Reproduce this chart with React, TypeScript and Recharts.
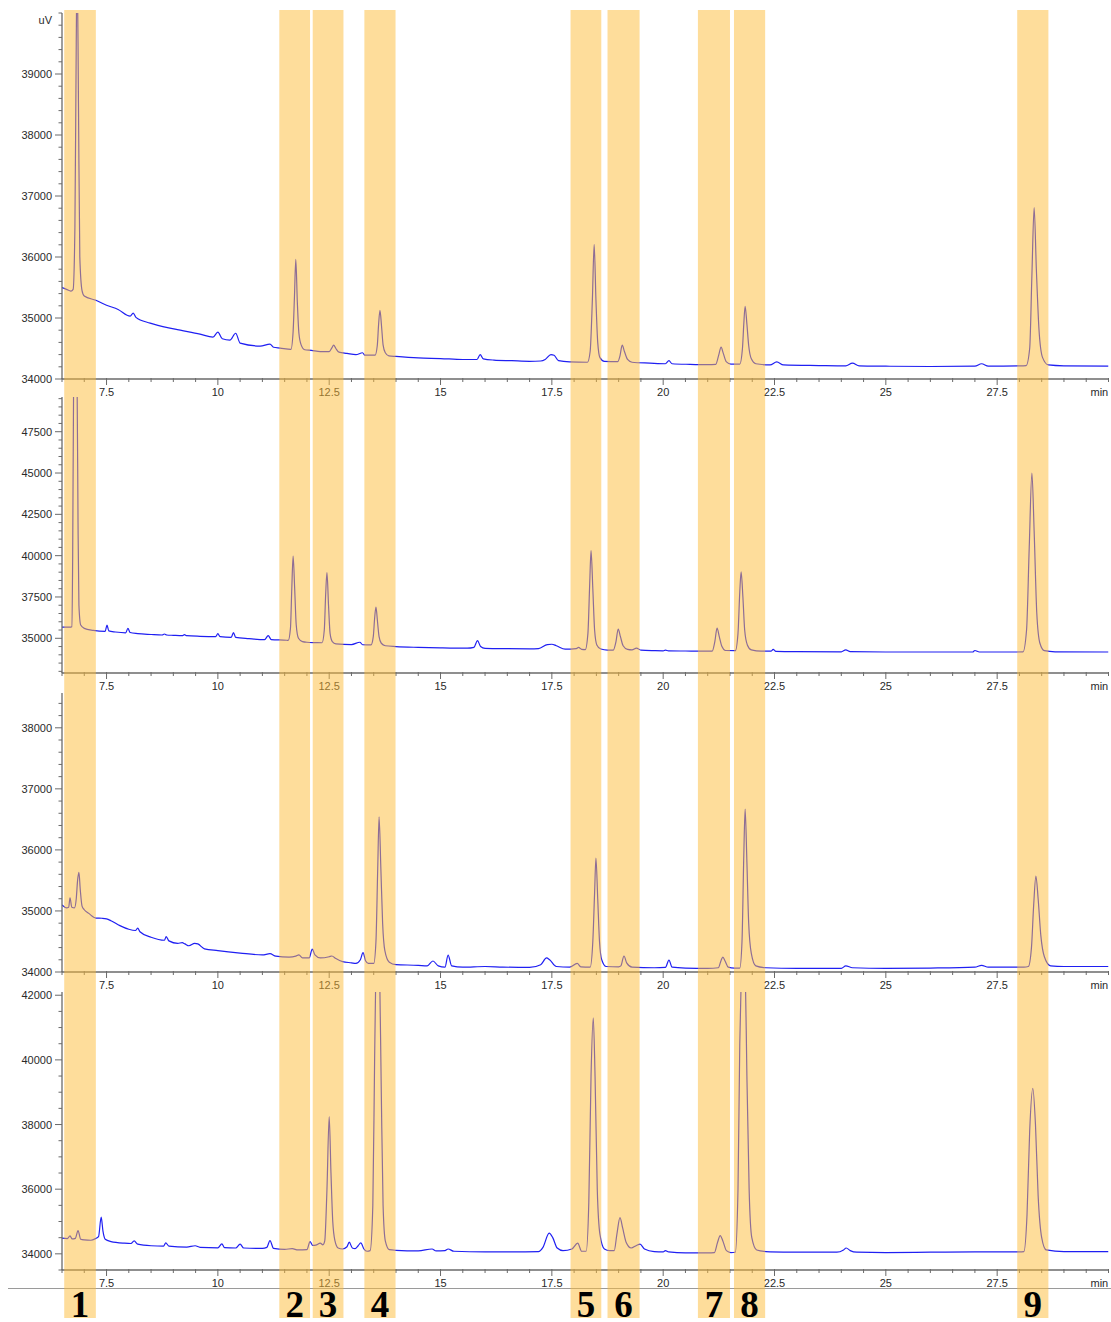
import React from 'react';
import { LineChart, Line, XAxis, YAxis, ReferenceArea } from 'recharts';

// ---------- data (minutes, uV) ----------
const trace1: [number, number][] = [
  [6.5, 35500], [6.6, 35470], [6.7, 35440], [6.75, 35470], [6.79, 36500], [6.82, 39500], [6.84, 41000],
  [6.87, 38500], [6.9, 36000], [6.95, 35450], [7.0, 35360], [7.26, 35290], [7.5, 35210], [7.76, 35140],
  [8.03, 35030], [8.1, 35080], [8.16, 35010], [8.48, 34915], [9.04, 34817], [9.6, 34735], [9.89, 34686],
  [10.0, 34770], [10.1, 34660], [10.27, 34637], [10.4, 34750], [10.5, 34588], [10.95, 34540], [11.17, 34572],
  [11.25, 34520], [11.4, 34507], [11.64, 34485], [11.69, 34780], [11.72, 35350], [11.75, 35960], [11.785, 35250],
  [11.82, 34750], [11.87, 34560], [11.95, 34480], [12.1, 34470], [12.3, 34450], [12.5, 34450], [12.56, 34510],
  [12.6, 34555], [12.65, 34500], [12.72, 34440], [12.9, 34420], [13.1, 34400], [13.25, 34430], [13.3, 34390],
  [13.53, 34390], [13.58, 34550], [13.61, 34900], [13.64, 35127], [13.675, 34870], [13.71, 34560], [13.76, 34430],
  [13.84, 34380], [14.0, 34370], [14.5, 34345], [15.0, 34335], [15.5, 34320], [15.82, 34320], [15.89, 34400],
  [15.96, 34330], [16.2, 34310], [16.6, 34300], [17.0, 34290], [17.25, 34295], [17.35, 34320], [17.48, 34400],
  [17.55, 34390], [17.65, 34300], [17.9, 34280], [18.3, 34275], [18.36, 34450], [18.41, 35300], [18.45, 36206],
  [18.49, 35300], [18.53, 34600], [18.58, 34350], [18.68, 34290], [18.98, 34285], [19.03, 34380], [19.08, 34555],
  [19.13, 34450], [19.2, 34320], [19.3, 34275], [19.7, 34260], [20.05, 34250], [20.13, 34300], [20.2, 34250],
  [20.6, 34240], [21.0, 34235], [21.18, 34240], [21.25, 34400], [21.3, 34523], [21.35, 34420], [21.42, 34280],
  [21.52, 34245], [21.72, 34245], [21.78, 34500], [21.81, 34900], [21.84, 35193], [21.88, 34900], [21.92, 34550],
  [21.98, 34330], [22.08, 34250], [22.4, 34230], [22.55, 34280], [22.7, 34230], [23.5, 34220], [24.1, 34215],
  [24.25, 34260], [24.4, 34215], [25.0, 34210], [26.0, 34205], [27.0, 34210], [27.15, 34250], [27.3, 34210],
  [28.0, 34215], [28.15, 34220], [28.23, 34500], [28.28, 35700], [28.33, 36810], [28.38, 35800], [28.44, 34800],
  [28.52, 34350], [28.65, 34230], [29.0, 34215], [30.0, 34210],
];

const trace2: [number, number][] = [
  [6.5, 35680], [6.7, 35680], [6.72, 35700], [6.74, 40000], [6.76, 50000], [6.8, 53000], [6.84, 50000],
  [6.86, 42000], [6.88, 37000], [6.92, 35800], [7.0, 35600], [7.2, 35480], [7.47, 35420], [7.51, 35800],
  [7.55, 35450], [7.7, 35380], [7.93, 35330], [7.98, 35600], [8.03, 35350], [8.2, 35280], [8.5, 35230],
  [8.75, 35200], [8.8, 35260], [8.85, 35200], [9.0, 35180], [9.2, 35160], [9.25, 35220], [9.3, 35160],
  [9.6, 35120], [9.95, 35100], [10.0, 35280], [10.05, 35100], [10.3, 35060], [10.35, 35340], [10.4, 35060],
  [10.7, 34980], [11.05, 34920], [11.13, 35160], [11.2, 34920], [11.55, 34880], [11.58, 34870], [11.63, 35600],
  [11.66, 38000], [11.69, 39980], [11.725, 38000], [11.76, 35800], [11.81, 35000], [11.9, 34800], [12.0, 34760],
  [12.2, 34740], [12.34, 34730], [12.39, 35500], [12.42, 37600], [12.45, 38970], [12.485, 37000], [12.52, 35300],
  [12.57, 34800], [12.65, 34660], [13.0, 34620], [13.19, 34760], [13.25, 34610], [13.44, 34600], [13.49, 35100],
  [13.52, 36200], [13.55, 36890], [13.585, 36000], [13.62, 35100], [13.67, 34700], [13.76, 34550], [14.0, 34500],
  [14.5, 34450], [15.0, 34420], [15.6, 34400], [15.75, 34450], [15.83, 34860], [15.9, 34500], [16.0, 34390],
  [16.5, 34370], [17.0, 34360], [17.2, 34380], [17.4, 34620], [17.5, 34640], [17.6, 34550], [17.8, 34340],
  [18.05, 34380], [18.1, 34450], [18.17, 34330], [18.25, 34320], [18.31, 35300], [18.35, 38300], [18.38, 40300],
  [18.42, 38000], [18.46, 35500], [18.51, 34600], [18.6, 34350], [18.75, 34290], [18.88, 34290], [18.94, 34800],
  [18.99, 35560], [19.04, 35100], [19.1, 34550], [19.2, 34330], [19.3, 34300], [19.4, 34410], [19.5, 34280],
  [19.8, 34250], [20.0, 34240], [20.05, 34290], [20.12, 34240], [20.5, 34230], [21.0, 34220], [21.1, 34220],
  [21.16, 34800], [21.21, 35620], [21.26, 35100], [21.32, 34500], [21.4, 34260], [21.62, 34250], [21.68, 35300],
  [21.72, 37800], [21.75, 39020], [21.79, 37500], [21.83, 35500], [21.89, 34600], [21.98, 34300], [22.2, 34220],
  [22.42, 34220], [22.47, 34330], [22.53, 34210], [23.0, 34190], [24.0, 34180], [24.1, 34300], [24.2, 34190],
  [25.0, 34170], [26.0, 34170], [26.95, 34170], [27.0, 34260], [27.1, 34170], [27.9, 34170], [28.08, 34180],
  [28.16, 35500], [28.22, 40500], [28.28, 45000], [28.33, 41500], [28.39, 36500], [28.46, 34700], [28.56, 34250],
  [28.8, 34180], [30.0, 34170],
];

const trace3: [number, number][] = [
  [6.5, 35097], [6.6, 35050], [6.65, 35060], [6.68, 35216], [6.72, 35060], [6.78, 35050], [6.82, 35200],
  [6.85, 35500], [6.88, 35632], [6.91, 35350], [6.95, 35080], [7.0, 35020], [7.1, 34960], [7.26, 34884],
  [7.4, 34880], [7.5, 34870], [7.6, 34840], [7.8, 34760], [8.0, 34700], [8.15, 34680], [8.2, 34720],
  [8.25, 34660], [8.5, 34570], [8.8, 34520], [8.84, 34580], [8.9, 34510], [9.1, 34470], [9.2, 34480],
  [9.26, 34460], [9.35, 34430], [9.48, 34470], [9.55, 34460], [9.7, 34380], [10.0, 34350], [10.5, 34310],
  [11.0, 34280], [11.17, 34300], [11.3, 34260], [11.6, 34245], [11.75, 34260], [11.82, 34280], [11.9, 34230],
  [12.05, 34230], [12.12, 34376], [12.18, 34280], [12.3, 34230], [12.5, 34250], [12.56, 34262], [12.65, 34220],
  [12.8, 34170], [13.0, 34150], [13.1, 34140], [13.2, 34200], [13.26, 34316], [13.32, 34180], [13.38, 34140],
  [13.5, 34140], [13.55, 34500], [13.59, 35700], [13.62, 36542], [13.66, 35700], [13.7, 34800], [13.75, 34350],
  [13.85, 34160], [14.0, 34120], [14.5, 34110], [14.7, 34100], [14.83, 34180], [14.95, 34100], [15.1, 34080],
  [15.17, 34278], [15.25, 34100], [15.5, 34080], [16.0, 34090], [16.4, 34080], [17.0, 34075], [17.25, 34120],
  [17.38, 34230], [17.45, 34200], [17.6, 34090], [17.9, 34080], [18.07, 34140], [18.15, 34085], [18.36, 34080],
  [18.42, 34500], [18.46, 35300], [18.49, 35866], [18.53, 35200], [18.57, 34500], [18.62, 34200], [18.72, 34090],
  [19.0, 34085], [19.05, 34100], [19.12, 34262], [19.18, 34150], [19.3, 34080], [19.8, 34070], [20.05, 34075],
  [20.13, 34196], [20.2, 34080], [20.5, 34065], [21.0, 34060], [21.24, 34070], [21.3, 34190], [21.34, 34245],
  [21.39, 34180], [21.46, 34080], [21.6, 34065], [21.72, 34065], [21.77, 34500], [21.81, 35900], [21.84, 36668],
  [21.88, 35800], [21.92, 34800], [21.98, 34300], [22.08, 34100], [22.3, 34070], [23.0, 34060], [24.0, 34060],
  [24.1, 34100], [24.25, 34070], [25.0, 34060], [26.0, 34065], [27.0, 34080], [27.15, 34110], [27.3, 34080],
  [28.1, 34080], [28.2, 34090], [28.27, 34400], [28.32, 35100], [28.37, 35571], [28.42, 35200], [28.48, 34600],
  [28.56, 34250], [28.7, 34100], [29.0, 34090], [30.0, 34090],
];

const trace4: [number, number][] = [
  [6.5, 34485], [6.62, 34470], [6.68, 34556], [6.73, 34460], [6.8, 34480], [6.86, 34720], [6.92, 34450],
  [7.0, 34430], [7.15, 34420], [7.25, 34470], [7.32, 34530], [7.38, 35134], [7.42, 34700], [7.47, 34450],
  [7.6, 34380], [7.9, 34330], [8.05, 34320], [8.12, 34400], [8.2, 34300], [8.5, 34250], [8.78, 34240],
  [8.83, 34340], [8.9, 34240], [9.3, 34210], [9.49, 34250], [9.6, 34200], [10.0, 34185], [10.09, 34310],
  [10.15, 34190], [10.4, 34180], [10.5, 34300], [10.58, 34180], [11.0, 34170], [11.1, 34200], [11.17, 34411],
  [11.25, 34170], [11.5, 34140], [11.67, 34160], [11.8, 34120], [12.0, 34130], [12.07, 34380], [12.13, 34260],
  [12.2, 34270], [12.3, 34330], [12.36, 34280], [12.4, 34400], [12.45, 36000], [12.5, 38243], [12.54, 36500],
  [12.58, 35000], [12.63, 34400], [12.7, 34180], [12.8, 34150], [12.9, 34220], [12.95, 34360], [13.02, 34180],
  [13.08, 34160], [13.15, 34250], [13.21, 34340], [13.28, 34150], [13.35, 34080], [13.42, 34100], [13.48, 35500],
  [13.52, 40000], [13.55, 43000], [13.59, 44500], [13.63, 43000], [13.67, 39000], [13.71, 35500], [13.76, 34400],
  [13.85, 34130], [14.0, 34110], [14.5, 34090], [14.81, 34150], [14.9, 34090], [15.1, 34100], [15.17, 34150],
  [15.3, 34080], [16.0, 34060], [16.6, 34060], [17.2, 34070], [17.3, 34200], [17.44, 34640], [17.52, 34500],
  [17.62, 34180], [17.75, 34100], [17.95, 34150], [18.08, 34330], [18.17, 34080], [18.27, 34080], [18.33, 35600],
  [18.38, 39500], [18.43, 41300], [18.47, 39500], [18.52, 36000], [18.58, 34600], [18.68, 34150], [18.8, 34100],
  [18.9, 34100], [18.96, 34600], [19.03, 35120], [19.09, 34800], [19.17, 34350], [19.28, 34180], [19.4, 34260],
  [19.48, 34300], [19.58, 34150], [19.8, 34070], [20.0, 34060], [20.05, 34100], [20.12, 34060], [20.5, 34030],
  [21.0, 34030], [21.15, 34040], [21.22, 34350], [21.28, 34565], [21.34, 34400], [21.42, 34100], [21.52, 34040],
  [21.62, 34050], [21.68, 36000], [21.72, 40500], [21.76, 43000], [21.8, 43800], [21.84, 43000], [21.88, 39500],
  [21.93, 36000], [21.99, 34500], [22.1, 34120], [22.4, 34060], [23.0, 34050], [23.9, 34050], [24.05, 34120],
  [24.11, 34180], [24.2, 34100], [24.35, 34050], [25.0, 34040], [26.0, 34050], [27.0, 34060], [28.0, 34060],
  [28.1, 34070], [28.17, 35200], [28.23, 37800], [28.3, 39120], [28.36, 38000], [28.42, 35800], [28.5, 34500],
  [28.6, 34120], [29.0, 34070], [30.0, 34070],
];

// highlighted retention windows (minutes) and their numbers
const bandStarts = [6.55, 11.38, 12.13, 13.29, 17.92, 18.75, 20.78, 21.59, 27.95];
const bandEnds = [7.26, 12.07, 12.82, 13.99, 18.61, 19.47, 21.5, 22.29, 28.65];
const bandLabels = ['1', '2', '3', '4', '5', '6', '7', '8', '9'];

// axis ticks
const xTickValues = [6.5, 7, 7.5, 8, 8.5, 9, 9.5, 10, 10.5, 11, 11.5, 12, 12.5, 13, 13.5, 14, 14.5, 15, 15.5, 16,
  16.5, 17, 17.5, 18, 18.5, 19, 19.5, 20, 20.5, 21, 21.5, 22, 22.5, 23, 23.5, 24, 24.5, 25, 25.5, 26, 26.5, 27,
  27.5, 28, 28.5, 29, 29.5, 30];
const xMajorLabels = ['7.5', '10', '12.5', '15', '17.5', '20', '22.5', '25', '27.5'];

const y1Majors = [34000, 35000, 36000, 37000, 38000, 39000];
const y2Majors = [35000, 37500, 40000, 42500, 45000, 47500];
const y3Majors = [34000, 35000, 36000, 37000, 38000];
const y4Majors = [34000, 36000, 38000, 40000, 42000];

const range = (a: number, b: number, s: number) => {
  const out: number[] = [];
  for (let v = a; v <= b + 1e-9; v += s) out.push(Math.round(v * 100) / 100);
  return out;
};

const toRows = (arr: [number, number][]) => arr.map(([t, v]) => ({ t, v }));

const FONT = '"Liberation Sans", Arial, sans-serif';
const AXIS = '#6a6a6a';
const TXT = '#2a2a2a';
const LINE = '#1f1ff2';
const W = 1111;
const X_DOMAIN: [number, number] = [6.5, 30];
const M_RIGHT = 2.5;
const Y_W = 62;

const panels = [
  { data: toRows(trace1), domain: [34000, 40000], majors: y1Majors, minors: range(34000, 40000, 200), unit: 'uV', plotTop: 13, plotBottom: 379 },
  { data: toRows(trace2), domain: [32900, 49600], majors: y2Majors, minors: range(33000, 49500, 500), unit: '', plotTop: 397, plotBottom: 673 },
  { data: toRows(trace3), domain: [34000, 38570], majors: y3Majors, minors: range(34000, 38400, 200), unit: '', plotTop: 693, plotBottom: 972 },
  { data: toRows(trace4), domain: [33500, 42100], majors: y4Majors, minors: range(33500, 42000, 500), unit: '', plotTop: 992, plotBottom: 1270 },
];

function XTick(props: any) {
  const { x, y, payload } = props;
  const v = payload.value;
  const label = xMajorLabels.find((l) => Math.abs(parseFloat(l) - v) < 1e-6);
  const isMajor = !!label;
  return (
    <g>
      <line x1={x} x2={x} y1={y - 1} y2={y + (isMajor ? 6 : 3)} stroke={AXIS} strokeWidth={1} />
      {label && (
        <text x={x} y={y + 17} textAnchor="middle" fontSize={11} fontFamily={FONT} fill={TXT}>{label}</text>
      )}
      {Math.abs(v - 30) < 1e-6 && (
        <text x={x - 18} y={y + 17} textAnchor="start" fontSize={11} fontFamily={FONT} fill={TXT}>min</text>
      )}
    </g>
  );
}

function makeYTick(majors: number[], unit: string, top: number) {
  return (props: any) => {
    const { x, y, payload } = props;
    const v = payload.value;
    const isMajor = majors.includes(v);
    return (
      <g>
        <line x1={x - (isMajor ? 7 : 3.5)} x2={x} y1={y} y2={y} stroke={AXIS} strokeWidth={1} />
        {isMajor && (
          <text x={x - 10} y={y + 4} textAnchor="end" fontSize={11} fontFamily={FONT} fill={TXT}>{v}</text>
        )}
        {unit && Math.abs(v - top) < 1e-6 && (
          <text x={x - 10} y={y + 11} textAnchor="end" fontSize={11} fontFamily={FONT} fill={TXT}>{unit}</text>
        )}
      </g>
    );
  };
}

function Panel({ p }: { p: (typeof panels)[number] }) {
  const top = p.plotTop - 10;
  const height = p.plotBottom - p.plotTop + 10 + 24;
  return (
    <div style={{ position: 'absolute', left: 0, top, width: W, height }}>
      <LineChart width={W} height={height} data={p.data} margin={{ top: 10, right: M_RIGHT, left: 0, bottom: 0 }}>
        <XAxis
          dataKey="t"
          type="number"
          domain={X_DOMAIN}
          allowDataOverflow
          ticks={xTickValues}
          interval={0}
          tickSize={0}
          tickMargin={0}
          height={24}
          tickLine={false}
          axisLine={{ stroke: AXIS, strokeWidth: 1.3 }}
          tick={(tp: any) => <XTick {...tp} />}
        />
        <YAxis
          type="number"
          domain={p.domain as [number, number]}
          allowDataOverflow
          ticks={p.minors}
          interval={0}
          width={Y_W}
          tickSize={0}
          tickMargin={0}
          tickLine={false}
          axisLine={{ stroke: AXIS, strokeWidth: 1.3 }}
          tick={makeYTick(p.majors, p.unit, p.domain[1] === 40000 ? 40000 : NaN)}
        />
        <Line
          dataKey="v"
          type="monotone"
          stroke={LINE}
          strokeWidth={1.2}
          dot={false}
          isAnimationActive={false}
        />
      </LineChart>
    </div>
  );
}

const bandRows = [{ t: X_DOMAIN[0], y: 0 }, { t: X_DOMAIN[1], y: 1 }];

export default function App() {
  return (
    <div style={{ position: 'absolute', left: 0, top: 0, width: W, height: 1322, background: '#fff', overflow: 'hidden' }}>
      {panels.map((p, i) => (
        <Panel key={i} p={p} />
      ))}
      <div style={{ position: 'absolute', left: 8, top: 1288, width: W - 8, height: 1, background: '#9a9a9a' }} />
      <div style={{ position: 'absolute', left: 0, top: 0, width: W, height: 1322 }}>
        <LineChart width={W} height={1322} data={bandRows} margin={{ top: 10, right: M_RIGHT, left: 0, bottom: 0 }}>
          <XAxis dataKey="t" type="number" domain={X_DOMAIN} allowDataOverflow height={4} axisLine={false} tickLine={false} tick={false} />
          <YAxis dataKey="y" type="number" domain={[0, 1]} allowDataOverflow width={Y_W} axisLine={false} tickLine={false} tick={false} />
          <Line dataKey="y" stroke="none" dot={false} activeDot={false} isAnimationActive={false} />
          {bandStarts.map((s, i) => (
            <ReferenceArea
              key={i}
              x1={s}
              x2={bandEnds[i]}
              y1={0}
              y2={1}
              fill="#FDBB37"
              fillOpacity={0.5}
              stroke="none"
              ifOverflow="visible"
              label={{
                value: bandLabels[i],
                position: 'insideBottom',
                offset: 1,
                fill: '#000',
                fontSize: 37,
                fontWeight: 'bold',
                fontFamily: '"Liberation Serif", "Times New Roman", serif',
              }}
            />
          ))}
        </LineChart>
      </div>
    </div>
  );
}
